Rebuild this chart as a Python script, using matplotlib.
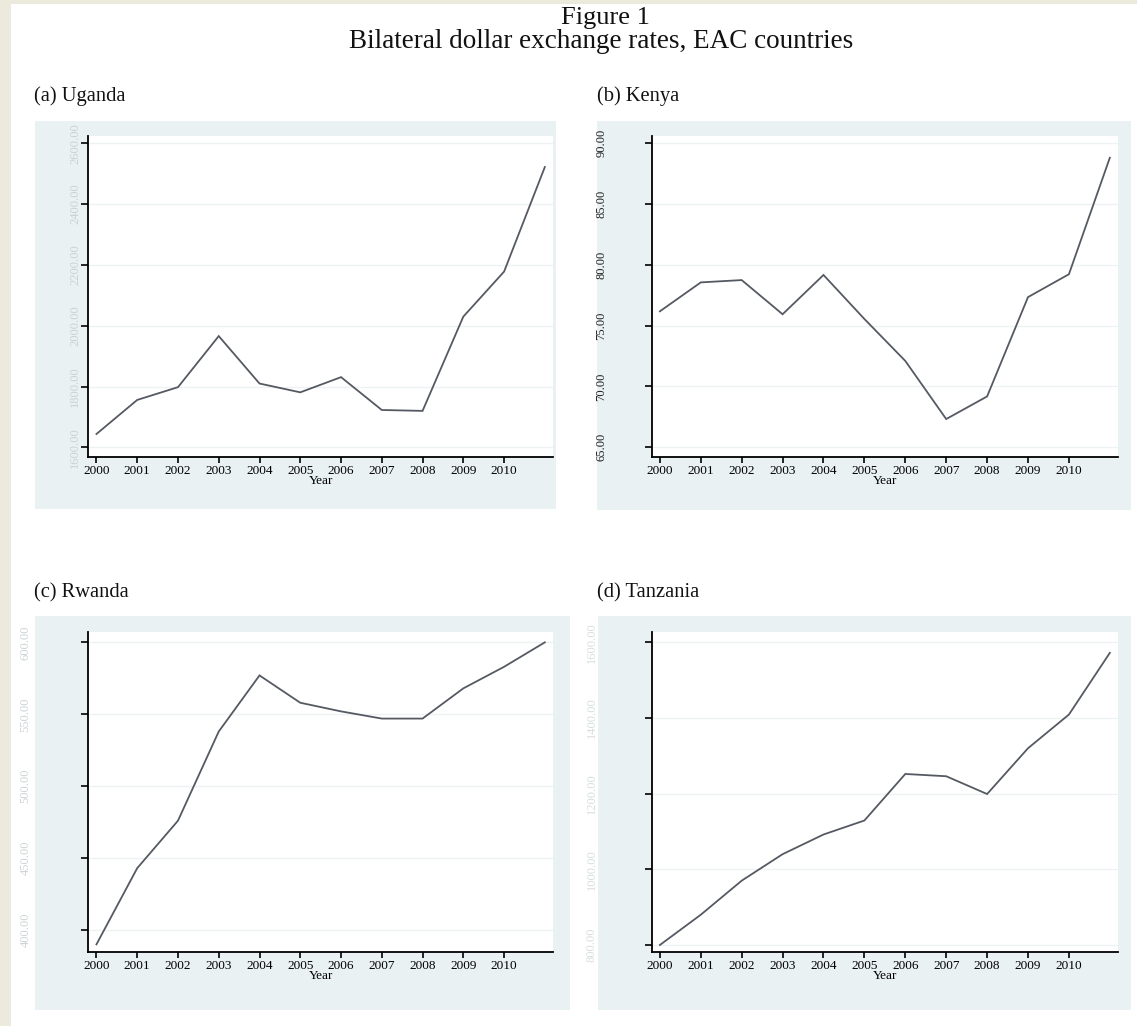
import numpy as np
import matplotlib.pyplot as plt
from matplotlib.patches import Rectangle

plt.rcParams['font.family'] = ['Liberation Serif', 'DejaVu Serif']

W, H = 1137, 1026

years = [2000, 2001, 2002, 2003, 2004, 2005, 2006, 2007, 2008, 2009, 2010, 2011]
year_ticks = list(range(2000, 2011))

# local currency units per US dollar
uganda = [1644, 1756, 1798, 1966, 1810, 1781, 1831, 1723, 1720, 2030, 2178, 2522]
kenya = [76.18, 78.56, 78.75, 75.94, 79.17, 75.55, 72.10, 67.32, 69.18, 77.35, 79.23, 88.81]
rwanda = [390, 443, 476, 538, 577, 558, 552, 547, 547, 568, 583, 600]
tanzania = [800, 880, 970, 1040, 1092, 1129, 1252, 1246, 1199, 1320, 1409, 1572]

uganda_ticks = [1600, 1800, 2000, 2200, 2400, 2600]
kenya_ticks = [65, 70, 75, 80, 85, 90]
rwanda_ticks = [400, 450, 500, 550, 600]
tanzania_ticks = [800, 1000, 1200, 1400, 1600]

BEIGE = '#ECE9DD'
PANEL_BG = '#EAF1F3'
LINE = '#555A62'
GRID = '#EEF2F4'


def rect(x0, y0, x1, y1):
    # pixel box (top-left origin) -> figure fraction [left, bottom, width, height]
    return [x0 / W, 1 - y1 / H, (x1 - x0) / W, (y1 - y0) / H]


fig = plt.figure(figsize=(W / 100, H / 100), dpi=100)
fig.patch.set_facecolor('white')

# beige page edge on the left and top
fig.patches.append(Rectangle((0, 0), 11 / W, 1, transform=fig.transFigure,
                             facecolor=BEIGE, edgecolor='none', zorder=-2))
fig.patches.append(Rectangle((0, 1 - 4 / H), 1, 4 / H, transform=fig.transFigure,
                             facecolor=BEIGE, edgecolor='none', zorder=-2))

panels = [
    # label, data, ticks, ylim, panel box, axes box, label pos, tick label style
    ('(a) Uganda', uganda, uganda_ticks, (1570, 2624),
     (35, 121, 556, 509), (88.3, 136, 553, 456.5), (34, 96), ('#C9D2D5', 0)),
    ('(b) Kenya', kenya, kenya_ticks, (64.24, 90.6),
     (597, 121, 1131, 510), (651.7, 136, 1118, 456.5), (597, 96), ('#222222', 27)),
    ('(c) Rwanda', rwanda, rwanda_ticks, (384.7, 607.4),
     (35, 616, 570, 1010), (88.3, 631.7, 553, 952), (34, 593), ('#CDD3D6', 36)),
    ('(d) Tanzania', tanzania, tanzania_ticks, (781.5, 1628),
     (598, 616, 1131, 1010), (651.7, 631.7, 1118, 952), (597, 593), ('#D8DEE0', 34)),
]

for label, values, yticks, ylim, box, axbox, lpos, (tcol, tpad) in panels:
    fig.patches.append(Rectangle((box[0] / W, 1 - box[3] / H),
                                 (box[2] - box[0]) / W, (box[3] - box[1]) / H,
                                 transform=fig.transFigure, facecolor=PANEL_BG,
                                 edgecolor='none', zorder=-1))
    fig.text(lpos[0] / W, 1 - lpos[1] / H, label, ha='left', va='center',
             fontsize=14.8, color='#111111')

    ax = fig.add_axes(rect(*axbox))
    ax.set_facecolor('white')
    ax.plot(years, values, color=LINE, lw=1.3, solid_joinstyle='miter')
    ax.set_xlim(1999.8, 2011.2)
    ax.set_ylim(*ylim)

    ax.set_xticks(year_ticks)
    ax.set_xticklabels([str(y) for y in year_ticks])
    ax.set_yticks(yticks)
    ax.set_yticklabels(['%.2f' % t for t in yticks], rotation=90, va='center')
    for t in ax.get_yticklabels():
        t.set_color(tcol)

    ax.grid(axis='y', color=GRID, lw=1)
    ax.set_axisbelow(True)
    for side in ('top', 'right'):
        ax.spines[side].set_visible(False)
    for side in ('left', 'bottom'):
        ax.spines[side].set_linewidth(1.3)
        ax.spines[side].set_color('black')
    ax.tick_params(axis='y', direction='out', length=5, width=1.2,
                   pad=tpad, labelsize=9)
    ax.tick_params(axis='x', direction='out', length=4, width=1.2,
                   pad=2, labelsize=9.5)
    ax.set_xlabel('Year', fontsize=9.5, labelpad=-1.5)

fig.text(605 / W, 1 - 18 / H, 'Figure 1', ha='center', va='center',
         fontsize=19, color='#111111')
fig.text(601 / W, 1 - 42 / H, 'Bilateral dollar exchange rates, EAC countries',
         ha='center', va='center', fontsize=19.5, color='#111111')

fig.savefig('out.png', dpi=100, facecolor=fig.get_facecolor())
